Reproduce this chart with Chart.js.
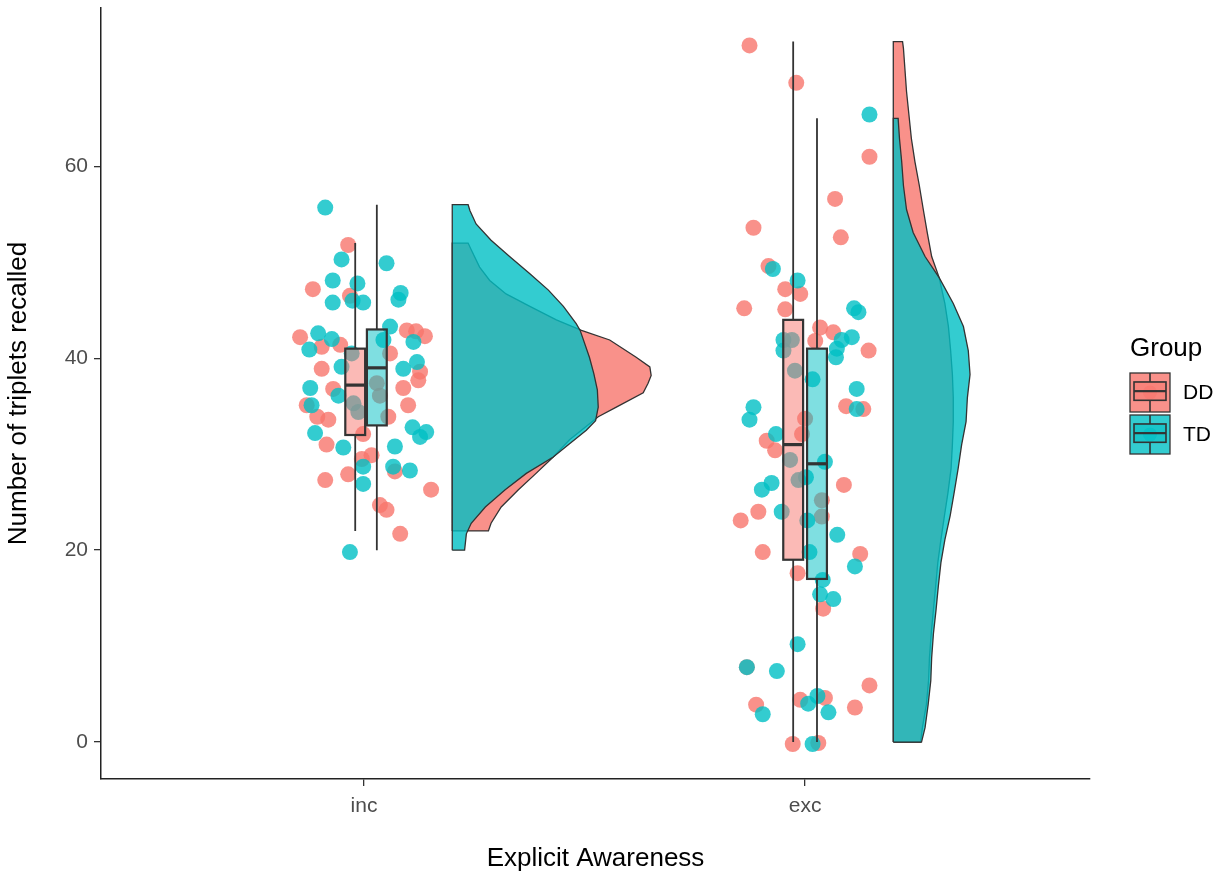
<!DOCTYPE html>
<html>
<head>
<meta charset="utf-8">
<title>Number of triplets recalled by Explicit Awareness</title>
<script src="https://cdn.jsdelivr.net/npm/chart.js@4.4.1/dist/chart.umd.min.js"></script>
<style>
  html, body { margin: 0; padding: 0; background: #ffffff; }
  #wrap { width: 1223px; height: 876px; }
</style>
</head>
<body>
<div id="wrap"><canvas id="chart" width="1223" height="876"></canvas></div>
<script>
// ---- data -------------------------------------------------------------
const categories = ['inc', 'exc'];          // x positions 1 and 2
const groups = ['DD', 'TD'];
const yTicks = [0, 20, 40, 60];

// individual scores, [jittered x, score]
const incDD = [
  [0.964, 51.8], [0.884, 47.2], [0.968, 46.5], [0.855, 42.2], [1.097, 42.9], [1.118, 42.8],
  [1.138, 42.3], [0.904, 41.2], [0.946, 41.4], [1.059, 40.5], [0.904, 38.9], [1.127, 38.6],
  [1.123, 37.7], [0.930, 36.8], [1.089, 36.9], [0.870, 35.1], [0.894, 33.9], [0.919, 33.6],
  [1.100, 35.1], [0.915, 31.0], [0.998, 32.1], [1.055, 33.9], [1.017, 29.9], [0.995, 29.5],
  [1.070, 28.2], [0.912, 27.3], [0.964, 27.9], [1.152, 26.3], [1.036, 24.7], [1.051, 24.2],
  [1.082, 21.7], [1.029, 37.4], [1.036, 36.1]
];
const incTD = [
  [0.912, 55.7], [0.949, 50.3], [1.051, 49.9], [0.929, 48.1], [0.985, 47.8], [1.083, 46.8],
  [1.078, 46.1], [0.929, 45.8], [0.974, 46.0], [0.998, 45.8], [1.059, 43.3], [0.896, 42.6],
  [0.927, 42.0], [1.112, 41.7], [0.876, 40.9], [1.044, 41.9], [0.949, 39.1], [1.089, 38.9],
  [1.120, 39.6], [0.878, 36.9], [0.942, 36.1], [0.881, 35.1], [0.889, 32.2], [0.953, 30.7],
  [1.110, 32.8], [1.127, 31.8], [1.141, 32.3], [1.070, 30.8], [0.998, 28.7], [1.066, 28.7],
  [1.104, 28.3], [0.998, 26.9], [0.968, 19.8], [0.976, 35.3], [0.987, 34.4], [0.972, 40.5]
];
const excDD = [
  [1.874, 72.6], [1.980, 68.7], [2.146, 61.0], [2.068, 56.6], [1.883, 53.6], [2.081, 52.6],
  [1.917, 49.6], [1.955, 47.2], [1.989, 46.7], [1.862, 45.2], [1.955, 45.1], [2.034, 43.2],
  [2.064, 42.7], [2.023, 41.8], [2.144, 40.8], [2.093, 35.0], [2.132, 34.7], [2.000, 33.7],
  [1.993, 32.1], [1.913, 31.4], [1.932, 30.4], [2.088, 26.8], [1.894, 24.0], [1.854, 23.1],
  [2.038, 23.5], [2.038, 25.2], [1.904, 19.8], [2.125, 19.6], [1.983, 17.6], [2.041, 13.9],
  [1.868, 7.8], [2.146, 5.9], [1.989, 4.4], [2.045, 4.6], [1.889, 3.9], [2.113, 3.6],
  [1.972, -0.2], [2.030, -0.1]
];
const excTD = [
  [2.146, 65.4], [1.927, 49.3], [1.983, 48.1], [2.111, 45.2], [2.121, 44.8], [2.106, 42.2],
  [2.083, 41.9], [1.951, 41.9], [1.970, 41.9], [2.072, 41.0], [1.951, 40.8], [2.070, 40.1],
  [1.977, 38.7], [2.017, 37.8], [2.117, 36.8], [2.117, 34.7], [1.883, 34.9], [1.874, 33.6],
  [1.934, 32.1], [1.966, 29.4], [2.045, 29.2], [1.924, 27.0], [1.902, 26.3], [1.985, 27.3],
  [2.002, 27.6], [1.947, 24.0], [2.005, 23.1], [2.073, 21.6], [2.010, 19.8], [2.113, 18.3],
  [2.040, 16.9], [2.034, 15.4], [2.064, 14.9], [1.983, 10.2], [1.868, 7.8], [1.936, 7.4],
  [2.028, 4.8], [2.007, 4.0], [2.053, 3.1], [1.904, 2.9], [2.017, -0.2]
];

// box plot summaries per category: [lower whisker, Q1, median, Q3, upper whisker]
const boxDD = [[22, 32, 37.2, 41, 52], [0, 19, 31, 44, 73]];
const boxTD = [[20, 33, 39, 43, 56], [0, 17, 29, 41, 65]];
const boxPosDD = [0.980, 1.973];
const boxPosTD = [1.029, 2.027];
const boxWidth = 0.045;

// half-violin density outlines: score levels and density widths (x units)
const violinBase = [1.2, 2.2];
const densYincDD = [22, 22.8, 24.5, 26.3, 28.0, 29.7, 31.5, 33.2, 33.9, 34.9, 36.4, 37.4, 38.2, 39.1, 40.1, 41.9, 42.9, 44.0, 45.4, 46.7, 48.1, 49.5, 51.3, 52];
const densWincDD = [0.082, 0.088, 0.111, 0.150, 0.190, 0.229, 0.266, 0.312, 0.331, 0.372, 0.433, 0.444, 0.451, 0.448, 0.417, 0.357, 0.293, 0.236, 0.176, 0.122, 0.085, 0.062, 0.043, 0.036];
const densYincTD = [20, 21.7, 22.8, 24.5, 26.3, 28.0, 29.7, 31.1, 32.5, 33.5, 34.9, 36.7, 38.4, 40.1, 42.9, 43.6, 45.4, 47.1, 48.8, 50.6, 52.3, 54.0, 55.4, 56];
const densWincTD = [0.028, 0.032, 0.043, 0.075, 0.120, 0.168, 0.229, 0.266, 0.304, 0.325, 0.331, 0.329, 0.321, 0.311, 0.290, 0.281, 0.252, 0.218, 0.176, 0.130, 0.088, 0.054, 0.040, 0.036];
const densYexcDD = [0, 1.5, 3.9, 6.4, 8.8, 11.3, 13.8, 16.2, 18.7, 21.1, 23.6, 26.0, 28.5, 31.0, 33.4, 35.9, 38.3, 40.8, 43.3, 45.7, 48.4, 50.6, 53.1, 55.5, 58.0, 60.5, 62.9, 67.8, 72.3, 73];
const densWexcDD = [0.062, 0.066, 0.075, 0.080, 0.082, 0.086, 0.091, 0.096, 0.101, 0.108, 0.116, 0.124, 0.131, 0.134, 0.136, 0.136, 0.134, 0.130, 0.125, 0.117, 0.104, 0.087, 0.077, 0.068, 0.059, 0.049, 0.041, 0.030, 0.023, 0.021];
const densYexcTD = [0, 1.5, 3.9, 6.4, 8.8, 11.3, 13.8, 16.2, 18.7, 21.1, 23.6, 26.0, 28.5, 31.0, 33.4, 35.9, 38.3, 40.8, 43.3, 45.7, 48.4, 50.6, 53.1, 55.5, 58.0, 60.5, 62.9, 65];
const densWexcTD = [0.064, 0.072, 0.079, 0.085, 0.087, 0.091, 0.097, 0.102, 0.108, 0.117, 0.129, 0.138, 0.147, 0.155, 0.165, 0.168, 0.174, 0.170, 0.159, 0.136, 0.104, 0.072, 0.045, 0.030, 0.023, 0.019, 0.014, 0.011];

// ---- styling ----------------------------------------------------------
const FONT = '"Liberation Sans", Arial, Helvetica, sans-serif';
const colDD = [248, 118, 109];
const colTD = [0, 191, 196];
const rgba = (c, a) => `rgba(${c[0]},${c[1]},${c[2]},${a})`;
const OUTLINE = '#333333';

function violinShape(base, ys, ws) {
  const pts = [{ x: base, y: ys[0] }];
  ys.forEach((y, i) => pts.push({ x: base + ws[i], y }));
  pts.push({ x: base, y: ys[ys.length - 1] });
  pts.push({ x: base, y: ys[0] });
  return pts;
}
const toXY = arr => arr.map(p => ({ x: p[0], y: p[1] }));

function violinDataset(pts, col, order) {
  return {
    type: 'scatter',
    data: pts,
    showLine: true,
    fill: 'shape',
    tension: 0,
    pointRadius: 0,
    borderColor: OUTLINE,
    borderWidth: 1.3,
    backgroundColor: rgba(col, 0.8),
    order
  };
}
function pointDataset(pts, col, order) {
  return {
    type: 'scatter',
    data: pts,
    showLine: false,
    pointRadius: 8,
    pointBorderWidth: 0,
    pointBackgroundColor: rgba(col, 0.8),
    pointHoverRadius: 8,
    order
  };
}

// box plots drawn over the points
const boxPlugin = {
  id: 'boxplots',
  afterDatasetsDraw(chart) {
    const { ctx, scales: { x, y } } = chart;
    const sets = [[boxDD, boxPosDD, colDD], [boxTD, boxPosTD, colTD]];
    ctx.save();
    sets.forEach(([stats, pos, col]) => {
      stats.forEach((s, i) => {
        const cx = x.getPixelForValue(pos[i]);
        const left = x.getPixelForValue(pos[i] - boxWidth / 2);
        const right = x.getPixelForValue(pos[i] + boxWidth / 2);
        const [lo, q1, med, q3, hi] = s.map(v => y.getPixelForValue(v));
        ctx.strokeStyle = OUTLINE;
        ctx.lineWidth = 1.8;
        ctx.beginPath();
        ctx.moveTo(cx, hi); ctx.lineTo(cx, q3);
        ctx.moveTo(cx, q1); ctx.lineTo(cx, lo);
        ctx.stroke();
        ctx.fillStyle = rgba(col, 0.5);
        ctx.fillRect(left, q3, right - left, q1 - q3);
        ctx.lineWidth = 2.2;
        ctx.strokeRect(left, q3, right - left, q1 - q3);
        ctx.lineWidth = 3.2;
        ctx.beginPath();
        ctx.moveTo(left, med); ctx.lineTo(right, med);
        ctx.stroke();
      });
    });
    ctx.restore();
  }
};

// legend with combined density / point / box key
const legendPlugin = {
  id: 'groupLegend',
  afterDraw(chart) {
    const ctx = chart.ctx;
    const kx = 1130, kw = 40, kh = 39;
    ctx.save();
    ctx.fillStyle = '#000000';
    ctx.textAlign = 'left';
    ctx.textBaseline = 'middle';
    ctx.font = `26px ${FONT}`;
    ctx.fillText('Group', kx, 349);
    [colDD, colTD].forEach((col, i) => {
      const ky = 373 + i * 42;
      ctx.fillStyle = rgba(col, 0.8);
      ctx.fillRect(kx, ky, kw, kh);
      ctx.strokeStyle = OUTLINE;
      ctx.lineWidth = 1.3;
      ctx.strokeRect(kx, ky, kw, kh);
      ctx.beginPath();
      ctx.arc(kx + kw / 2, ky + kh / 2, 7, 0, Math.PI * 2);
      ctx.fillStyle = rgba(col, 0.6);
      ctx.fill();
      const bx0 = kx + kw * 0.1, bx1 = kx + kw * 0.9;
      const by0 = ky + kh * 0.23, by1 = ky + kh * 0.7;
      ctx.lineWidth = 1.6;
      ctx.beginPath();
      ctx.moveTo(kx + kw / 2, ky); ctx.lineTo(kx + kw / 2, by0);
      ctx.moveTo(kx + kw / 2, by1); ctx.lineTo(kx + kw / 2, ky + kh);
      ctx.stroke();
      ctx.fillStyle = rgba(col, 0.5);
      ctx.fillRect(bx0, by0, bx1 - bx0, by1 - by0);
      ctx.strokeRect(bx0, by0, bx1 - bx0, by1 - by0);
      ctx.lineWidth = 2.2;
      ctx.beginPath();
      ctx.moveTo(bx0, (by0 + by1) / 2); ctx.lineTo(bx1, (by0 + by1) / 2);
      ctx.stroke();
      ctx.fillStyle = '#000000';
      ctx.font = `21px ${FONT}`;
      ctx.fillText(groups[i], 1183, ky + kh / 2 + 1);
    });
    ctx.restore();
  }
};

Chart.defaults.font.family = FONT;

new Chart(document.getElementById('chart'), {
  type: 'scatter',
  data: {
    datasets: [
      violinDataset(violinShape(violinBase[0], densYincDD, densWincDD), colDD, 6),
      violinDataset(violinShape(violinBase[1], densYexcDD, densWexcDD), colDD, 6),
      violinDataset(violinShape(violinBase[0], densYincTD, densWincTD), colTD, 5),
      violinDataset(violinShape(violinBase[1], densYexcTD, densWexcTD), colTD, 5),
      pointDataset(toXY(incDD.concat(excDD)), colDD, 4),
      pointDataset(toXY(incTD.concat(excTD)), colTD, 3)
    ]
  },
  options: {
    responsive: false,
    devicePixelRatio: 1,
    animation: false,
    events: [],
    layout: { padding: { top: 8, right: 133, bottom: 0, left: 0 } },
    plugins: {
      legend: { display: false },
      tooltip: { enabled: false },
      filler: { propagate: false }
    },
    scales: {
      x: {
        type: 'linear',
        min: 0.4036,
        max: 2.646,
        afterBuildTicks: axis => { axis.ticks = categories.map((c, i) => ({ value: i + 1 })); },
        afterFit: axis => {
          axis.height = 97;
          axis.paddingLeft = 0;
          axis.paddingRight = 0;
        },
        ticks: {
          callback: v => categories[Math.round(v) - 1],
          color: '#4D4D4D',
          font: { size: 21 },
          padding: 8,
          autoSkip: false,
          maxRotation: 0
        },
        grid: { display: true, drawOnChartArea: false, drawTicks: true, tickLength: 7, color: OUTLINE, lineWidth: 1.3 },
        border: { display: true, color: '#222222', width: 1.5 },
        title: { display: true, text: 'Explicit Awareness', color: '#000000', font: { size: 26 }, padding: { top: 0, bottom: 2 } }
      },
      y: {
        type: 'linear',
        min: -3.85,
        max: 76.5,
        afterBuildTicks: axis => { axis.ticks = yTicks.map(v => ({ value: v })); },
        afterFit: axis => {
          axis.width = 101;
          axis.paddingTop = 0;
          axis.paddingBottom = 0;
        },
        ticks: {
          color: '#4D4D4D',
          font: { size: 21 },
          padding: 6
        },
        grid: { display: true, drawOnChartArea: false, drawTicks: true, tickLength: 7, color: OUTLINE, lineWidth: 1.3 },
        border: { display: true, color: '#222222', width: 1.5 },
        title: { display: true, text: 'Number of triplets recalled', color: '#000000', font: { size: 26 }, padding: { top: 3, bottom: 0 } }
      }
    }
  },
  plugins: [boxPlugin, legendPlugin]
});
</script>
</body>
</html>
